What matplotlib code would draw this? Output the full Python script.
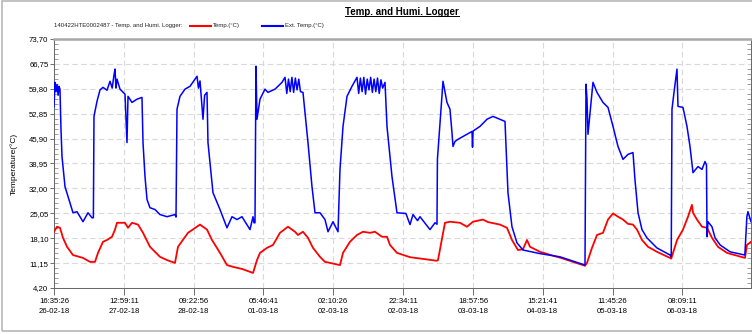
import matplotlib
matplotlib.use("Agg")
import matplotlib.pyplot as plt
from matplotlib.lines import Line2D
from matplotlib.patches import Rectangle
from matplotlib.ticker import AutoMinorLocator
from datetime import datetime, timedelta

plt.rcParams['font.family'] = ['Liberation Sans', 'DejaVu Sans']

# hours since 26-02-18 16:35:26
ext_hours = [0.0, 0.29, 0.6, 0.88, 1.2, 1.46, 1.75, 2.04, 2.34, 3.21, 4.67, 5.55, 6.72, 8.47, 9.93, 11.1, 11.5,
             11.68, 12.56, 13.44, 14.31, 15.48, 16.36, 17.0, 17.5, 17.82, 18.1, 18.4, 19.28, 20.74, 21.32, 21.62,
             22.78, 24.24, 25.7, 26.0, 26.58, 27.17, 28.04, 29.5, 30.96, 33.01, 35.34, 35.64,
             35.93, 36.8, 38.27, 39.73, 41.77, 42.2, 42.65, 43.52, 44.0, 44.69, 44.98, 46.44, 48.49, 50.53,
             51.99, 53.45, 54.91, 57.25, 58.13, 58.42, 58.71,
             59.0, 59.3, 60.17, 61.63, 62.51, 64.55, 66.6, 67.48, 68.0, 68.5, 69.0, 69.5, 70.0, 70.5, 71.0,
             71.5, 72.0, 72.73, 74.19, 75.36, 76.24, 77.7, 79.16, 80.04, 81.5, 82.96,
             83.54, 84.42, 85.59, 87.05, 88.51, 89.0, 89.5, 90.0, 90.5, 91.0, 91.5, 92.0, 92.5, 93.0, 93.5,
             94.0, 94.5, 95.0, 95.5, 96.0, 96.69, 97.27, 98.73, 100.19, 102.8, 103.99, 104.87, 106.2, 106.91,
             109.83, 111.29, 111.87,
             112.0, 113.63, 114.79, 115.67, 116.25, 116.55, 117.13, 118.01, 120.64, 122.1, 122.25, 122.4,
             124.43, 126.48, 128.23, 130.28, 131.74, 132.61, 133.78, 135.24, 136.99, 141.96, 147.8, 155.11,
             155.4, 155.69, 155.98, 157.44, 158.61, 160.36, 161.83, 163.29, 164.75, 166.21, 167.67, 169.13,
             169.7, 170.6, 171.75, 173.2, 176.1, 179.94, 180.3,
             180.52, 181.11, 181.98, 182.27, 183.73, 184.9, 185.78, 186.66, 188.12, 189.29, 190.16, 190.6,
             190.75, 191.04, 192.2, 193.1, 194.6, 197.5, 201.8, 202.4, 202.7, 203.6]
ext_temp = [54.9, 61.6, 59.0, 61.0, 58.0, 60.5, 59.7, 48.5, 40.9, 32.5, 28.0, 25.2, 25.5, 22.7, 25.2, 23.8, 23.8,
            52.1, 56.3, 59.5, 60.2, 59.4, 61.9, 60.0, 63.5, 65.3, 60.0, 62.5, 59.7, 58.3, 44.8, 57.7,
            56.0, 56.9, 57.4, 44.8, 35.3, 28.9, 26.6, 26.1, 24.7, 24.1, 24.7, 24.0,
            54.1, 57.7, 59.7, 60.5, 63.3, 60.0, 62.0, 51.3, 58.0, 58.8, 44.8, 30.8, 26.1, 21.0,
            24.1, 23.3, 24.1, 20.5, 24.1, 22.4, 22.4,
            66.1, 51.3, 56.9, 59.7, 58.8, 59.7, 61.6, 63.0, 58.5, 62.5, 59.0, 63.0, 58.8, 62.8, 59.5,
            62.5, 59.0, 58.8, 44.8, 32.5, 25.2, 25.2, 23.3, 19.9, 22.7, 19.9,
            37.3, 49.3, 57.7, 60.5, 63.0, 58.5, 62.8, 59.0, 63.0, 58.3, 62.5, 59.5, 63.0, 58.8, 62.5,
            59.0, 62.8, 58.5, 62.3, 60.0, 61.6, 49.3, 35.3, 25.2, 25.0, 21.9, 24.7, 23.0, 24.1,
            20.5, 22.4, 22.0,
            40.1, 61.9, 56.0, 54.1, 47.6, 43.7, 45.1, 45.7, 47.1, 47.9, 43.5, 48.0,
            49.3, 51.3, 52.1, 51.3, 50.7, 30.8, 21.3, 16.8, 14.8, 13.8, 12.9, 10.6,
            61.1, 57.0, 47.1, 61.6, 58.8, 56.0, 54.6, 49.3, 43.7, 40.1, 41.5, 42.0,
            34.5, 25.2, 20.5, 18.2, 15.4, 13.4, 13.0,
            54.1, 58.8, 65.3, 54.9, 54.6, 49.3, 43.7, 36.4, 38.1, 37.3, 39.5, 38.5,
            18.5, 22.7, 21.3, 18.2, 16.2, 14.3, 13.4, 24.1, 25.5, 22.7]

temp_hours = [0.0, 0.88, 1.75, 2.63, 3.8, 5.55, 8.47, 10.52, 11.98, 12.85, 14.31, 15.48, 16.94, 17.82, 18.4,
              20.74, 21.62, 22.78, 24.54, 26.0, 28.04, 30.96, 33.0, 35.34, 36.22, 39.14, 42.65, 44.69, 46.15,
              48.49, 50.53, 52.29, 55.0, 58.13, 59.3, 60.17, 62.21, 63.96, 66.01, 68.35, 70.4, 71.27, 72.73,
              74.19, 75.65, 77.7, 79.16, 83.54, 84.42, 86.46, 88.51, 90.26, 92.3, 93.76, 95.81, 97.27, 98.15,
              100.19, 104.0, 111.87, 112.17, 114.21, 115.67, 118.59, 120.64, 122.39, 125.31, 126.77, 130.28,
              132.32, 133.78, 135.53, 136.99, 138.16, 139.04, 141.96, 146.92, 148.09, 155.11, 155.69, 157.15,
              158.61, 160.36, 161.83, 163.29, 164.75, 166.21, 167.67, 169.13, 170.3, 171.76, 173.51, 176.14,
              179.94, 180.3, 182.0, 183.73, 185.2, 186.36, 186.66, 187.82, 189.29, 190.75, 192.21, 193.96,
              196.59, 201.84, 202.42, 203.6]
temp = [19.9, 21.3, 21.0, 18.2, 15.7, 13.4, 12.6, 11.5, 11.5, 14.0, 17.1, 17.6, 18.5, 20.5, 22.4,
        22.4, 21.0, 22.4, 21.9, 19.6, 15.7, 12.9, 12.0, 11.2, 15.7, 19.6, 21.9, 20.5, 17.6,
        14.0, 10.6, 10.1, 9.5, 8.4, 12.0, 14.0, 15.4, 16.2, 19.6, 21.3, 19.9, 19.0, 19.9,
        18.2, 15.4, 12.9, 11.5, 10.6, 14.0, 17.1, 19.0, 19.9, 19.6, 19.9, 18.5, 18.5, 16.2,
        14.0, 12.8, 11.8, 12.0, 22.4, 22.7, 22.4, 21.3, 22.7, 23.3, 22.6, 21.9,
        21.0, 17.6, 14.8, 15.0, 17.6, 15.7, 14.3, 12.9, 12.6, 10.4, 11.2, 15.4,
        19.0, 19.6, 23.3, 25.0, 24.1, 23.3, 22.1, 21.9, 20.5, 17.6, 15.7, 14.3,
        12.6, 12.4, 17.6, 20.5, 24.1, 27.4, 25.2, 23.3, 21.3, 21.0, 18.2, 15.7,
        14.0, 12.6, 16.2, 17.1]

start = datetime(2018, 2, 26, 16, 35, 26)
tick_step_h = 73425 / 3600.0
x_ticks = [k * tick_step_h for k in range(10)]
x_labels = [(start + timedelta(hours=h)).strftime('%H:%M:%S\n%d-%m-%y') for h in x_ticks]
y_ticks = [4.2 + 6.95 * k for k in range(11)]
y_labels = [f"{v:.2f}".replace('.', ',') for v in y_ticks]

fig = plt.figure(figsize=(7.52, 3.34), dpi=100)
ax = fig.add_axes([54 / 752, 1 - 288 / 334, 697 / 752, 249 / 334])

ax.plot(temp_hours, temp, color='#ff0000', lw=1.3, zorder=3)
ax.plot(ext_hours, ext_temp, color='#0000ff', lw=1.1, zorder=4)

ax.set_xlim(0, 203.6)
ax.set_ylim(4.2, 73.7)
ax.set_xticks(x_ticks)
ax.set_xticklabels(x_labels, fontsize=5.6, linespacing=1.6)
ax.set_yticks(y_ticks)
ax.set_yticklabels(y_labels, fontsize=5.6)
ax.yaxis.set_minor_locator(AutoMinorLocator(5))
ax.tick_params(axis='x', length=5, width=0.6, color='#555555', pad=2)
ax.tick_params(axis='y', which='major', length=3, width=0.6, color='#555555', pad=1, right=True)
ax.tick_params(axis='y', which='minor', length=3, width=0.5, color='#777777', direction='in', right=True)
ax.grid(True, which='major', color='#d9d9d9', lw=0.8, ls=(0, (5, 3)))
ax.set_axisbelow(True)
for side in ['left', 'bottom', 'right']:
    ax.spines[side].set_color('#666666')
    ax.spines[side].set_linewidth(0.7)
ax.spines['top'].set_color('#a8a8a8')
ax.spines['top'].set_linewidth(1.8)
ax.set_ylabel('Temperature(°C)', fontsize=6, labelpad=8)

# title with underline
title = fig.text(402 / 752, 1 - 12 / 334, 'Temp. and Humi. Logger', fontsize=7, fontweight='bold',
                 ha='center', va='center')
fig.canvas.draw()
bb = title.get_window_extent().transformed(fig.transFigure.inverted())
fig.add_artist(Line2D([bb.x0, bb.x1], [bb.y0 + 0.003, bb.y0 + 0.003], transform=fig.transFigure,
                      color='black', lw=0.7))

# legend row
ly = 1 - 26 / 334
fig.text(54 / 752, ly, '140422HTE0002487 - Temp. and Humi. Logger:', fontsize=4.3, va='center', color='#222222')
fig.add_artist(Line2D([190 / 752, 211 / 752], [ly, ly], transform=fig.transFigure, color='#ff0000', lw=1.5))
fig.text(213 / 752, ly, 'Temp.(°C)', fontsize=4.3, va='center', color='#222222')
fig.add_artist(Line2D([262 / 752, 283 / 752], [ly, ly], transform=fig.transFigure, color='#0000ff', lw=1.5))
fig.text(285 / 752, ly, 'Ext. Temp.(°C)', fontsize=4.3, va='center', color='#222222')

# outer frame
fig.add_artist(Rectangle((2 / 752, 3 / 334), 760 / 752, 330 / 334, transform=fig.transFigure,
                         fill=False, edgecolor='#b8b8b8', lw=1.2))

fig.savefig('out.png', dpi=100)
